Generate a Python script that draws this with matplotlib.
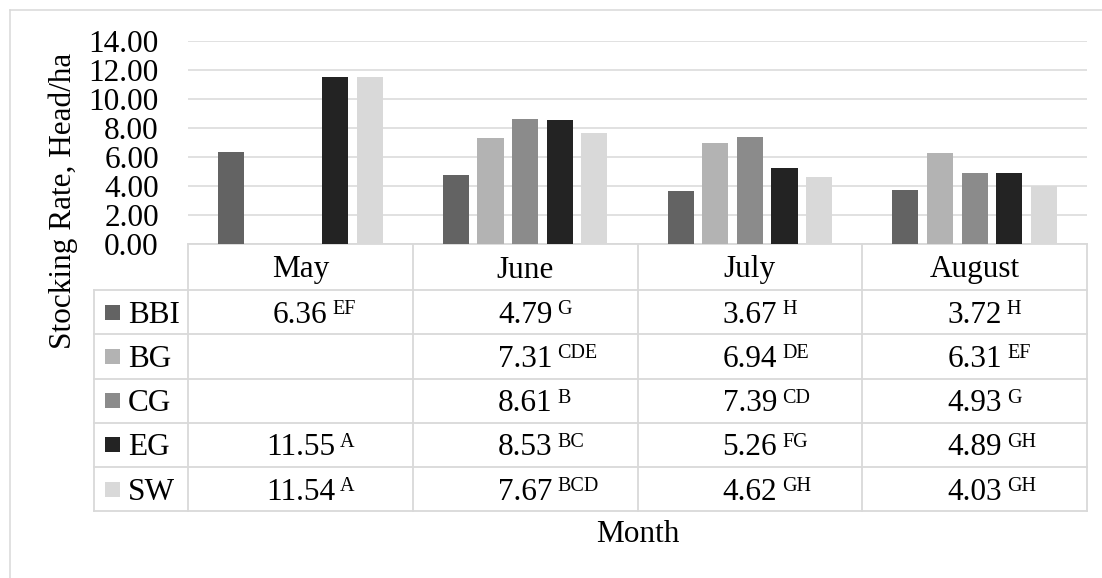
import numpy as np
import matplotlib
matplotlib.use('Agg')
import matplotlib.pyplot as plt
import matplotlib.transforms as mtransforms
from matplotlib.patches import Rectangle

plt.rcParams['font.family'] = ['Liberation Serif', 'DejaVu Serif']

months = ['May', 'June', 'July', 'August']
groups = ['BBI', 'BG', 'CG', 'EG', 'SW']
bbi = [6.36, 4.79, 3.67, 3.72]
bg = [np.nan, 7.31, 6.94, 6.31]
cg = [np.nan, 8.61, 7.39, 4.93]
eg = [11.55, 8.53, 5.26, 4.89]
sw = [11.54, 7.67, 4.62, 4.03]
bbi_sig = ['EF', 'G', 'H', 'H']
bg_sig = ['', 'CDE', 'DE', 'EF']
cg_sig = ['', 'B', 'CD', 'G']
eg_sig = ['A', 'BC', 'FG', 'GH']
sw_sig = ['A', 'BCD', 'GH', 'GH']

values = [bbi, bg, cg, eg, sw]
sigs = [bbi_sig, bg_sig, cg_sig, eg_sig, sw_sig]
colors = ['#636363', '#b3b3b3', '#8b8b8b', '#232323', '#d9d9d9']
grid_c = '#d9d9d9'

W, H = 1102, 578
fig = plt.figure(figsize=(W / 100, H / 100), dpi=100)

# overlay in pixel coords (y downwards) for table and frame
ov = fig.add_axes([0, 0, 1, 1])
ov.set_xlim(0, W)
ov.set_ylim(H, 0)
ov.axis('off')

# bar axes
left, right, top, bottom = 188, 1087, 41, 244
ax = fig.add_axes([left / W, 1 - bottom / H, (right - left) / W, (bottom - top) / H])
ax.patch.set_alpha(0)
x = np.arange(len(months))
for i, (vals, c) in enumerate(zip(values, colors)):
    ax.bar(x + (i - 2) * 0.154, vals, width=0.116, color=c, zorder=3)
ax.set_xlim(-0.5, 3.5)
ax.set_ylim(0, 14)
ax.set_yticks(np.arange(0, 15, 2))
ax.set_yticklabels(['%.2f' % v for v in np.arange(0, 15, 2)], fontsize=22.5)
ax.set_xticks([])
ax.tick_params(axis='y', length=0, pad=21)
ax.yaxis.grid(True, color=grid_c, lw=1.1, zorder=0)
for s in ax.spines.values():
    s.set_visible(False)

# outer frame (cropped on right and bottom)
ov.plot([10, 10], [10, H], color=grid_c, lw=1.1)
ov.plot([10, W], [10, 10], color=grid_c, lw=1.1)

# data table under the axis
tr = mtransforms.blended_transform_factory(ax.transData, ov.transData)
rows = [244, 290, 334.3, 378.5, 422.8, 467, 511.3]
x_leg = -0.5 - (left - 94) / 224.75
ov.plot([-0.5, 3.5], [rows[0], rows[0]], color=grid_c, lw=1.3, transform=tr)
for r in rows[1:]:
    ov.plot([x_leg, 3.5], [r, r], color=grid_c, lw=1.3, transform=tr)
for xb in [-0.5, 0.5, 1.5, 2.5, 3.5]:
    ov.plot([xb, xb], [rows[0], rows[-1]], color=grid_c, lw=1.3, transform=tr)
ov.plot([x_leg, x_leg], [rows[1], rows[-1]], color=grid_c, lw=1.3, transform=tr)

for j, m in enumerate(months):
    ov.text(j, (rows[0] + rows[1]) / 2 + 10.5, m, ha='center', va='baseline',
            fontsize=22.5, transform=tr)

nums = []
for i, g in enumerate(groups):
    yc = (rows[i + 1] + rows[i + 2]) / 2
    ov.add_patch(Rectangle((105, yc - 7.5), 15, 15, color=colors[i], lw=0))
    ov.text(128, yc + 10.5, g, ha='left', va='baseline', fontsize=22.5)
    for j in range(len(months)):
        v = values[i][j]
        if np.isnan(v):
            continue
        t = ov.text(j, yc + 10.5, '%.2f' % v, ha='center', va='baseline',
                    fontsize=22.5, transform=tr)
        ov.annotate(sigs[i][j], xy=(1, 0), xycoords=t, xytext=(5, 15.5),
                    textcoords='offset pixels', ha='left', va='baseline',
                    fontsize=14.5)

fig.text(63 / W, 1 - 201 / H, 'Stocking Rate, Head/ha', rotation=90,
         ha='center', va='center', fontsize=22.5)
fig.text((left + right) / 2 / W, 1 - 535 / H, 'Month', ha='center', va='center',
         fontsize=22.5)

fig.savefig('out.png', dpi=100)
